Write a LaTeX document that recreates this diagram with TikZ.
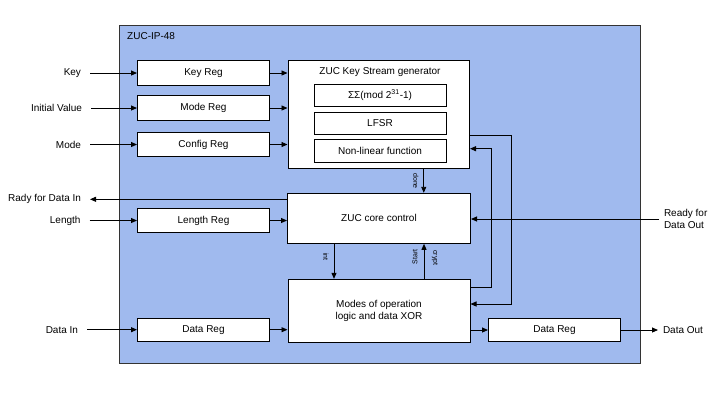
\documentclass[tikz,border=0pt]{standalone}
\usepackage{fontspec}
\setmainfont{Liberation Sans}
\usetikzlibrary{arrows.meta}
\definecolor{ipblue}{RGB}{160,186,238}

\begin{document}
\begin{tikzpicture}[x=1bp,y=-1bp,
    font=\fontsize{10bp}{12.5bp}\selectfont,
    >={Triangle[length=6bp,width=5bp]},
    link/.style={line width=0.9bp},
    regbox/.style={draw,fill=white,line width=1bp,minimum width=132bp,minimum height=24.4bp,inner sep=0pt},
    blockbox/.style={draw,fill=white,line width=1bp,inner sep=0pt},
    pinlabel/.style={anchor=east,inner sep=2bp,outer xsep=7bp},
    outlabel/.style={anchor=west,inner sep=2bp,outer xsep=3bp,align=left},
    sigtext/.style={font=\fontsize{7bp}{8bp}\selectfont,inner sep=0pt}]
    \useasboundingbox (0,0) rectangle (720,400);

    % IP block
    \draw[fill=ipblue,draw=black!80,line width=1bp] (119.7,25.7) rectangle (640.5,363.5);
    \node[anchor=west,inner sep=0pt] (title) at (127,36) {ZUC-IP-48};

    % Registers
    \node[regbox] (keyreg) at (203.5,73) {Key Reg};
    \node[regbox] (modereg) at (203.5,108) {Mode Reg};
    \node[regbox] (cfgreg) at (203.5,144.5) {Config Reg};
    \node[regbox] (lenreg) at (203.5,220.5) {Length Reg};
    \node[regbox,minimum height=22.7bp] (dinreg) at (203.5,329.7) {Data Reg};
    \node[regbox,minimum height=22.3bp] (doutreg) at (554.5,330) {Data Reg};

    % Key stream generator
    \node[blockbox,minimum width=181.5bp,minimum height=108bp] (ksg) at (378.75,114.7) {};
    \node (ksgtitle) at (380,72) {ZUC Key Stream generator};
    \node[regbox,minimum height=21.7bp] (sum) at (380,95.2) {ΣΣ(mod 2\textsuperscript{31}-1)};
    \node[regbox,minimum height=21.7bp] (lfsr) at (380,123.2) {LFSR};
    \node[regbox,minimum height=22.7bp] (nlf) at (380,150.7) {Non-linear function};

    % Control and modes
    \node[blockbox,minimum width=183bp,minimum height=50bp] (ctrl) at (379,218.3) {ZUC core control};
    \node[blockbox,minimum width=182bp,minimum height=62.7bp,align=center] (modes) at (379,310.7)
        {Modes of operation\\logic and data XOR};

    % Pins
    \node[pinlabel] (key) at (90,73) {Key};
    \node[pinlabel] (iv) at (91,108) {Initial Value};
    \node[pinlabel] (mode) at (90,144.5) {Mode};
    \node[pinlabel] (rdyin) at (90,199.3) {Rady for Data In};
    \node[pinlabel] (len) at (89.5,220.5) {Length};
    \node[pinlabel] (din) at (87,329.7) {Data In};
    \node[outlabel] (rdyout) at (659,219) {Ready for\\Data Out};
    \node[outlabel] (dout) at (658,330) {Data Out};

    % Inputs
    \draw[link,->] (key) -- (keyreg);
    \draw[link,->] (iv) -- (modereg);
    \draw[link,->] (mode) -- (cfgreg);
    \draw[link,->] (len) -- (lenreg);
    \draw[link,->] (din) -- (dinreg);
    \draw[link,->] (ctrl.west |- rdyin) -- (rdyin);
    \draw[link,->] (rdyout) -- (ctrl.east |- rdyout);
    \draw[link,->] (doutreg) -- (dout);

    % Registers to blocks
    \draw[link,->] (keyreg) -- (keyreg -| ksg.west);
    \draw[link,->] (modereg) -- (modereg -| ksg.west);
    \draw[link,->] (cfgreg) -- (cfgreg -| ksg.west);
    \draw[link,->] (lenreg) -- (lenreg -| ctrl.west);
    \draw[link,->] (dinreg) -- (dinreg -| modes.west);
    \draw[link,->] (doutreg -| modes.east) -- (doutreg);

    % Handshakes
    \draw[link,->] ([xshift=45bp]ksg.south) -- ([xshift=45bp]ksg.south |- ctrl.north)
        node[sigtext,midway,xshift=-8bp] {\rotatebox{-90}{done}};
    \draw[link,->] ([xshift=-45bp]ctrl.south) -- ([xshift=-45bp]ctrl.south |- modes.north)
        node[sigtext,pos=0.38,xshift=-8bp] {\rotatebox{-90}{int}};
    \draw[link,->] ([xshift=45bp]modes.north) -- ([xshift=45bp]modes.north |- ctrl.south)
        node[sigtext,pos=0.63,xshift=-9bp] {\rotatebox{90}{Start}}
        node[sigtext,pos=0.6,xshift=11bp] {\rotatebox{-90}{crypt}};

    % Feedback
    \draw[link,->] ([yshift=-20.6bp]ksg.east) -- ++(41.5,0) |- ([yshift=6.7bp]modes.east);
    \draw[link,->] ([yshift=23.4bp]modes.east) -- ++(21,0) |- ([yshift=-34bp]ksg.east);
\end{tikzpicture}
\end{document}
